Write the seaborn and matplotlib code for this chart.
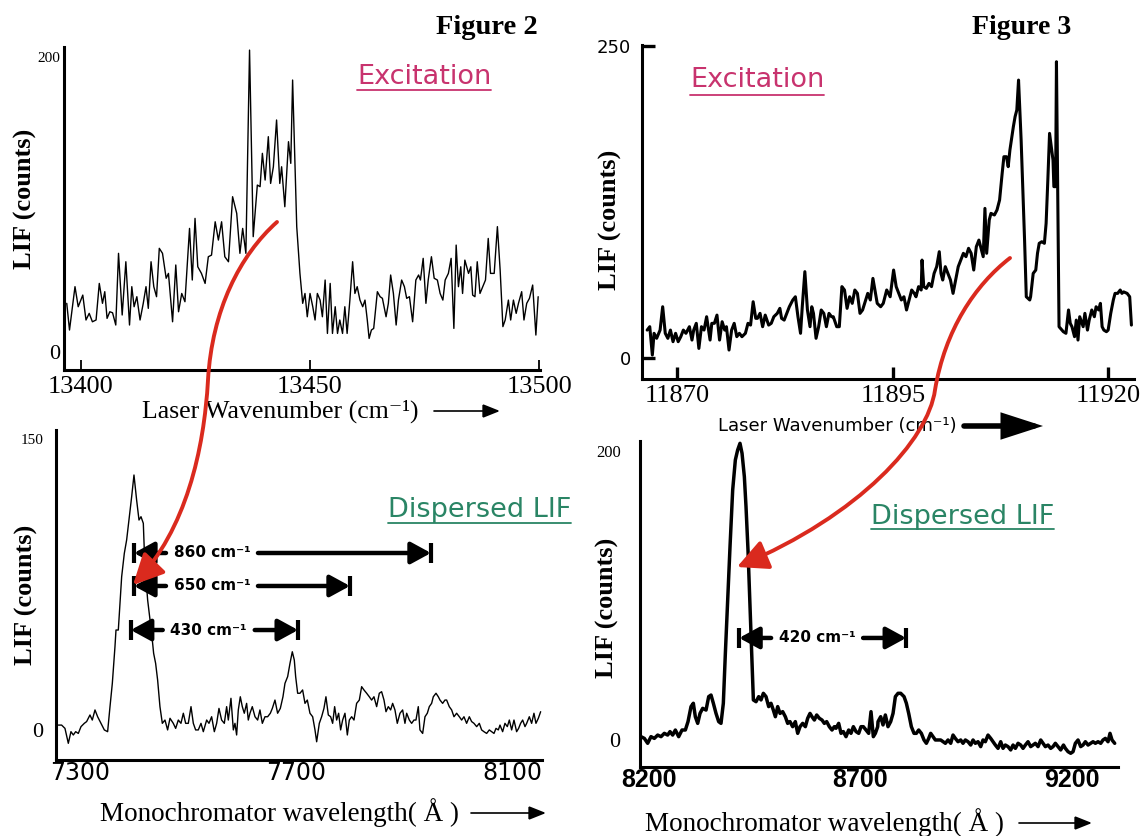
import matplotlib
matplotlib.use("Agg")
import matplotlib.pyplot as plt
import seaborn as sns
from matplotlib.path import Path
from matplotlib.patches import FancyArrowPatch
from matplotlib.lines import Line2D

# ---------------- data ----------------
exc2_wavenumber = [
    13396.9, 13397.5, 13398.7, 13399.4, 13400.4, 13401.1, 13401.8, 13402.5, 13403.3, 13404.0,
    13404.7, 13405.2, 13405.7, 13406.3, 13406.9, 13407.6, 13408.2, 13409.0, 13409.8, 13410.6,
    13411.1, 13411.6, 13412.2, 13412.9, 13413.6, 13414.2, 13414.7, 13415.3, 13415.9, 13416.5,
    13417.1, 13417.8, 13418.6, 13419.1, 13420.0, 13420.7, 13421.3, 13422.0, 13422.7, 13423.7,
    13424.3, 13424.9, 13425.5, 13426.3, 13427.1, 13427.8, 13428.5, 13429.3, 13430.0, 13430.7,
    13431.4, 13432.2, 13433.1, 13434.0, 13434.7, 13435.3, 13436.0, 13436.8, 13437.6, 13438.5,
    13439.1, 13439.6, 13440.2, 13440.9, 13441.4, 13442.0, 13442.7, 13443.4, 13443.8, 13444.5,
    13445.3, 13445.8, 13446.2, 13447.1, 13447.8,
    13448.4, 13448.9, 13449.4, 13450.0, 13450.6, 13451.1, 13451.6, 13452.2, 13452.7, 13453.3,
    13453.8, 13454.4, 13454.9, 13455.5, 13456.0, 13456.5, 13457.1, 13457.6, 13458.1, 13458.7,
    13459.3, 13459.8, 13460.3, 13460.9, 13461.5, 13462.0, 13462.5, 13462.9, 13463.4, 13463.9,
    13464.7, 13465.3, 13465.8, 13466.6, 13467.1, 13467.6, 13468.2, 13468.8, 13469.3, 13470.0,
    13470.6, 13471.1, 13471.7, 13472.4, 13473.1, 13473.7, 13474.1, 13474.7, 13475.3, 13475.8,
    13476.5, 13477.1, 13477.8, 13478.4, 13479.0, 13479.5, 13480.2, 13480.8, 13481.4, 13481.9,
    13482.4, 13482.9, 13483.3, 13483.8, 13484.6, 13485.1, 13485.5, 13486.0, 13486.5, 13487.1,
    13487.7, 13488.3, 13488.9, 13489.4, 13490.2, 13490.9, 13491.5, 13492.1, 13492.6, 13493.3,
    13493.8, 13494.4, 13495.0, 13495.5, 13496.2, 13496.7, 13497.3, 13497.9, 13498.6, 13499.3,
    13499.8]
exc2_lif = [
    33.0, 14.9, 44.3, 30.7, 38.6, 21.7, 26.2, 20.5, 21.7, 46.5,
    33.0, 40.9, 22.8, 27.3, 26.6, 18.3, 66.9, 25.1, 61.2, 18.3,
    44.3, 30.7, 37.5, 21.7, 33.0, 44.3, 29.6, 61.2, 44.3, 37.5,
    70.3, 66.9, 50.0, 53.3, 20.5, 59.0, 27.3, 39.7, 34.1, 83.8,
    48.8, 90.6, 57.8, 53.3, 46.5, 64.6, 65.7, 88.3, 75.9, 88.3,
    64.6, 61.2, 105.3, 94.0, 66.9, 83.8, 66.9, 204.7, 78.2, 113.2,
    112.1, 134.7, 116.6, 146.0, 114.3, 125.6, 157.3, 114.3, 125.6, 98.5,
    142.6, 127.9, 184.4, 85.0, 53.3,
    33.0, 39.7, 23.9, 39.7, 30.7, 21.7, 39.7, 35.2, 23.9, 48.8,
    12.6, 46.5, 12.6, 30.7, 12.6, 21.7, 12.6, 30.7, 12.6, 35.2,
    61.2, 39.7, 44.3, 35.2, 30.7, 35.2, 21.7, 9.2, 14.9, 16.0,
    40.9, 37.5, 36.4, 23.9, 33.0, 52.2, 39.7, 18.3, 35.2, 48.8,
    44.3, 36.4, 37.5, 20.5, 48.8, 52.2, 48.8, 63.5, 33.0, 48.8,
    64.6, 50.0, 48.8, 39.7, 35.2, 48.8, 53.3, 63.5, 16.0, 72.5,
    44.3, 57.8, 39.7, 62.3, 53.3, 57.8, 38.6, 37.5, 61.2, 39.7,
    44.3, 48.8, 77.0, 53.3, 53.3, 85.0, 55.6, 17.2, 21.7, 35.2,
    21.7, 35.2, 26.2, 33.0, 40.9, 21.7, 33.0, 36.4, 45.4, 11.5,
    37.5]

exc3_wavenumber = [
    11866.5, 11866.8, 11867.1, 11867.3, 11867.6, 11868.0, 11868.3, 11868.6, 11868.9, 11869.2,
    11869.5, 11869.8, 11870.1, 11870.4, 11870.7, 11871.0, 11871.4, 11871.7, 11871.9, 11872.2,
    11872.5, 11872.8, 11873.1, 11873.4, 11873.8, 11874.0, 11874.3, 11874.6, 11874.9, 11875.2,
    11875.5, 11875.7, 11876.0, 11876.3, 11876.6, 11876.9, 11877.2, 11877.5, 11877.9, 11878.2,
    11878.5, 11878.8, 11879.1, 11879.3, 11879.6, 11879.9, 11880.2, 11880.6, 11880.9, 11881.2,
    11881.6, 11881.9, 11882.1, 11882.4, 11882.7, 11883.0, 11883.4, 11883.7, 11884.0, 11884.3,
    11884.5, 11884.8, 11885.1, 11885.4, 11885.6, 11885.8, 11886.1, 11886.4, 11886.7, 11887.0,
    11887.3, 11887.6, 11887.9, 11888.1, 11888.5, 11888.8, 11889.1, 11889.4, 11889.7, 11890.0,
    11890.3, 11890.6, 11890.9, 11891.2, 11891.5, 11891.8, 11892.1, 11892.4, 11892.7, 11893.0,
    11893.2, 11893.6, 11893.9, 11894.3,
    11894.7, 11895.1, 11895.4, 11895.7, 11896.0, 11896.3, 11896.6, 11896.9, 11897.2, 11897.5,
    11897.7, 11898.0, 11898.3, 11898.4, 11898.6, 11898.9, 11899.2, 11899.5, 11899.8, 11900.1,
    11900.4, 11900.6, 11900.8, 11901.1, 11901.4, 11901.7, 11902.0, 11902.3, 11902.6, 11902.9,
    11903.2, 11903.5, 11903.8, 11904.1, 11904.4, 11904.7, 11905.0, 11905.2, 11905.5, 11905.7,
    11905.9, 11906.2, 11906.4, 11906.8, 11907.1, 11907.4, 11907.7, 11907.9, 11908.2, 11908.4,
    11908.6, 11909.0, 11909.2, 11909.4, 11909.6, 11909.9, 11910.1, 11910.3, 11910.5, 11910.9,
    11911.0, 11911.3, 11911.6, 11911.8, 11912.0, 11912.3, 11912.6, 11912.8, 11913.0, 11913.2,
    11913.4, 11913.6, 11913.7, 11913.9, 11914.0, 11914.3, 11914.8, 11915.1, 11915.4, 11915.6,
    11915.8, 11916.1, 11916.3, 11916.5, 11916.7, 11917.1, 11917.3, 11917.6, 11917.8, 11918.1,
    11918.4, 11918.6, 11918.9, 11919.1, 11919.3, 11919.5, 11919.8, 11920.0, 11920.3, 11920.6,
    11920.8, 11921.1, 11921.4, 11921.6, 11921.8, 11922.2, 11922.5, 11922.7]
exc3_lif = [
    22.4, 25.1, 2.4, 19.8, 15.8, 22.4, 41.1, 19.8, 15.8, 22.4,
    13.1, 19.8, 13.1, 17.1, 22.4, 19.8, 25.1, 14.4, 22.4, 27.8,
    7.7, 25.1, 22.4, 33.1, 14.4, 27.8, 27.8, 34.4, 14.4, 29.1,
    22.4, 25.1, 6.4, 22.4, 27.8, 17.1, 19.8, 17.1, 19.8, 27.8,
    26.4, 45.1, 31.8, 31.8, 35.8, 25.1, 34.4, 26.4, 27.8, 33.1,
    35.8, 39.8, 31.8, 30.4, 35.8, 41.1, 46.5, 49.1, 33.1, 19.8,
    41.1, 69.2, 38.5, 25.1, 41.1, 35.8, 15.8, 25.1, 38.5, 35.8,
    25.1, 35.8, 33.1, 33.1, 25.1, 25.1, 57.2, 54.5, 39.8, 49.1,
    43.8, 54.5, 51.8, 35.8, 38.5, 45.1, 51.8, 46.5, 63.8, 51.8,
    43.8, 41.1, 43.8, 54.5,
    49.1, 70.5, 57.2, 51.8, 46.5, 49.1, 38.5, 46.5, 54.5, 51.8,
    49.1, 57.2, 54.5, 78.5, 57.2, 55.8, 59.8, 57.2, 67.8, 73.2,
    85.2, 67.8, 62.5, 73.2, 67.8, 62.5, 51.8, 62.5, 73.2, 78.5,
    83.9, 81.2, 87.9, 83.9, 70.5, 89.2, 94.5, 89.2, 81.2, 119.9,
    83.9, 110.6, 115.9, 114.6, 118.6, 126.6, 148.0, 161.3, 161.3, 153.3,
    166.7, 185.4, 193.4, 198.7, 222.7, 174.7, 134.6, 94.5, 49.1, 46.5,
    49.1, 67.8, 70.5, 83.9, 91.9, 93.2, 91.9, 107.9, 142.6, 180.0,
    169.3, 158.6, 137.3, 137.3, 237.4, 25.1, 21.1, 19.8, 38.5, 27.8,
    25.1, 17.1, 30.4, 14.4, 33.1, 25.1, 35.8, 22.4, 30.4, 38.5,
    33.1, 41.1, 38.5, 43.8, 25.1, 22.4, 21.1, 22.4, 35.8, 46.5,
    51.8, 51.8, 54.5, 51.8, 53.0, 51.8, 49.1, 26.4]

disp2_wavelength = [
    7259.9, 7266.0, 7272.2, 7278.4, 7283.3, 7287.7, 7292.0, 7296.9, 7301.9, 7308.0,
    7312.3, 7318.5, 7322.8, 7327.8, 7332.7, 7338.9, 7345.1, 7351.2, 7355.6, 7359.9,
    7364.8, 7366.7, 7371.0, 7374.1, 7377.2, 7382.1, 7386.4, 7390.7, 7395.7, 7400.0,
    7404.9, 7409.3, 7413.0, 7417.3, 7419.1, 7421.6, 7425.3, 7429.0, 7432.7, 7436.4,
    7440.1, 7443.8, 7448.1, 7452.5, 7457.4, 7462.3, 7466.7, 7472.8, 7477.2, 7482.1,
    7487.0, 7491.4, 7495.7, 7500.6, 7505.6, 7509.9, 7514.2, 7519.1, 7524.1, 7528.4,
    7534.6, 7538.9, 7543.8, 7548.8, 7553.1, 7557.4, 7562.3, 7567.3, 7571.6, 7574.7,
    7579.6, 7584.0, 7587.0, 7590.1, 7593.2, 7596.9, 7600.6, 7604.3, 7608.6, 7611.7,
    7614.8, 7619.1, 7624.1, 7629.0, 7633.3, 7637.7, 7642.6, 7647.5, 7652.5, 7656.2,
    7661.1, 7666.0, 7671.0, 7675.9, 7679.6, 7684.6, 7688.9, 7693.2, 7696.9, 7699.4,
    7703.1,
    7707.4, 7712.3, 7716.7, 7721.0, 7725.9, 7730.9, 7735.2, 7738.3, 7743.2, 7747.5,
    7751.8, 7755.5, 7759.9, 7764.2, 7767.9, 7771.6, 7775.3, 7779.0, 7782.7, 7786.4,
    7790.7, 7795.1, 7798.8, 7803.1, 7807.4, 7812.3, 7817.3, 7821.6, 7825.9, 7830.9,
    7835.8, 7840.1, 7844.4, 7849.4, 7854.3, 7858.6, 7863.0, 7866.7, 7871.0, 7875.3,
    7879.0, 7883.3, 7887.6, 7892.6, 7897.5, 7901.8, 7905.0, 7909.9, 7914.2, 7918.5,
    7922.2, 7926.5, 7929.6, 7934.6, 7938.9, 7943.2, 7946.9, 7951.2, 7954.3, 7959.3,
    7963.6, 7966.7, 7971.6, 7975.9, 7979.0, 7983.9, 7988.3, 7992.6, 7997.5, 8002.5,
    8006.8, 8011.1, 8016.0, 8021.0, 8025.3, 8029.6, 8034.6, 8039.5, 8043.8, 8048.1,
    8053.1, 8058.0, 8062.3, 8066.7, 8070.4, 8074.7, 8077.8, 8082.7, 8087.0, 8091.4,
    8095.1, 8099.4, 8103.7, 8108.6, 8112.3, 8116.0, 8119.8, 8124.1, 8127.2, 8132.1,
    8136.4, 8140.7, 8144.4, 8148.8, 8153.1]
disp2_lif = [
    2.5, 2.5, 0.8, -6.9, -0.9, -2.6, -0.9, -1.8, 1.7, 3.4,
    4.3, 7.7, 5.1, 10.3, 6.8, 3.4, 0.0, -0.9, 12.0, 24.0,
    42.9, 51.5, 51.5, 65.3, 79.0, 91.0, 97.9, 108.2, 120.2, 131.4,
    118.5, 108.2, 109.9, 106.5, 92.7, 80.7, 67.0, 58.4, 49.8, 39.5,
    34.3, 25.7, 12.0, 3.4, 5.1, 0.0, 6.0, 3.4, 0.8, 5.1,
    3.4, 8.6, 3.4, 3.4, 12.0, 3.4, 0.0, 0.0, 3.4, -0.9,
    5.1, 3.4, 6.8, -0.9, 3.4, 11.1, 5.1, 3.4, 12.0, 5.1,
    16.3, 0.0, 3.4, -2.6, 10.3, 17.1, 12.0, 8.6, 13.7, 5.1,
    8.6, 12.0, 6.8, 5.1, 10.3, 3.4, 6.8, 6.8, 8.6, 11.1,
    15.4, 8.6, 11.1, 17.1, 24.0, 27.5, 34.3, 40.3, 36.0, 27.5,
    18.9,
    18.9, 20.6, 13.7, 15.4, 8.6, 6.8, 0.0, -6.1, 3.4, 6.8,
    11.1, 17.1, 7.7, 6.8, 3.4, 12.0, 5.1, 8.6, 0.0, 5.1,
    8.6, -2.6, 5.1, 6.8, 5.1, 13.7, 15.4, 22.3, 20.6, 18.9,
    17.1, 15.4, 17.1, 12.0, 18.9, 19.7, 15.4, 9.4, 12.0, 10.3,
    13.7, 10.3, 3.4, 8.6, 10.3, 3.4, 8.6, 5.1, 3.4, 5.1,
    5.1, 12.0, 0.0, -1.8, 6.8, 8.6, 12.0, 13.7, 17.1, 18.9,
    17.1, 15.4, 13.7, 15.4, 15.4, 12.0, 10.3, 6.8, 8.6, 6.8,
    5.1, 6.8, 3.4, 6.8, 4.3, 3.4, 1.7, 3.4, 0.0, -0.9,
    -1.8, 0.0, -0.9, -1.8, 0.8, 0.0, 2.5, -0.9, 3.4, 1.7,
    5.1, 0.0, 5.1, -0.9, 0.8, 3.4, 5.1, 1.7, 3.4, 6.8,
    3.4, 8.6, 3.4, 6.0, 9.4]

disp3_wavelength = [
    8181.1, 8189.0, 8196.8, 8204.7, 8212.6, 8220.5, 8228.4, 8236.2, 8244.1, 8249.6,
    8255.9, 8262.3, 8270.1, 8278.0, 8285.9, 8292.2, 8299.3, 8304.8, 8309.5, 8315.1,
    8320.6, 8326.9, 8334.8, 8341.1, 8346.6, 8352.1, 8358.4, 8364.7, 8370.2, 8375.7,
    8380.5, 8386.0, 8391.5, 8397.8, 8404.1, 8409.6, 8415.1, 8419.9, 8425.4, 8429.3,
    8434.0, 8438.8, 8443.5, 8446.7, 8453.0, 8459.3, 8464.8, 8470.3, 8476.6, 8482.9,
    8488.4, 8493.9, 8498.7, 8504.2, 8509.7, 8516.0, 8522.3, 8527.8, 8533.3, 8539.6,
    8545.9, 8551.5, 8557.0, 8563.3, 8569.6, 8575.1, 8580.6, 8585.3, 8590.9, 8596.4,
    8602.7, 8609.0, 8614.5, 8620.0, 8626.3, 8632.6, 8638.1, 8642.1, 8648.4, 8653.9,
    8659.4, 8665.7, 8672.0, 8677.5, 8683.1, 8689.4, 8695.7, 8701.2, 8706.7, 8713.0,
    8719.3, 8724.8, 8730.3, 8735.1, 8740.6,
    8741.4, 8747.7, 8753.2, 8758.7, 8765.0, 8771.3, 8776.9, 8782.4, 8788.7, 8795.0,
    8802.9, 8808.4, 8813.9, 8820.2, 8826.5, 8832.0, 8837.5, 8843.8, 8850.1, 8855.7,
    8861.2, 8865.9, 8871.4, 8876.9, 8883.2, 8889.5, 8895.1, 8900.6, 8906.9, 8913.2,
    8918.7, 8924.2, 8930.5, 8936.8, 8942.3, 8947.9, 8954.2, 8960.5, 8966.0, 8971.5,
    8977.8, 8984.1, 8989.6, 8995.1, 9001.4, 9007.8, 9013.3, 9018.8, 9025.1, 9031.4,
    9036.9, 9042.4, 9048.7, 9055.0, 9060.6, 9066.1, 9072.4, 9078.7, 9084.2, 9089.7,
    9096.0, 9102.3, 9107.8, 9113.3, 9119.7, 9126.0, 9131.5, 9137.0, 9143.3, 9149.6,
    9155.1, 9160.6, 9166.9, 9173.2, 9179.8, 9184.3, 9190.6, 9196.9, 9202.4, 9207.9,
    9214.2, 9220.5, 9226.0, 9231.6, 9237.9, 9244.2, 9249.7, 9255.2, 9261.5, 9267.8,
    9273.3, 9278.8, 9285.1, 9289.8, 9294.6, 9300.9]
disp3_lif = [
    2.3, 1.1, -2.3, 2.3, 1.1, 3.4, 2.3, 4.6, 3.4, 5.8,
    3.4, 6.9, 2.3, 6.9, 6.9, 12.7, 23.1, 25.4, 16.1, 11.5,
    18.4, 21.9, 20.7, 30.0, 31.1, 25.4, 18.4, 12.7, 11.5, 25.4,
    60.0, 96.9, 133.8, 173.0, 193.8, 200.7, 205.3, 198.4, 182.2, 161.5,
    131.5, 92.3, 55.4, 27.7, 26.5, 30.0, 27.7, 32.3, 30.0, 23.1,
    25.4, 20.7, 16.1, 23.1, 18.4, 19.6, 16.1, 11.5, 12.7, 9.2,
    12.7, 4.6, 9.2, 11.5, 9.2, 15.0, 18.4, 16.1, 13.8, 17.3,
    15.0, 13.8, 11.5, 12.7, 9.2, 6.9, 9.2, 8.1, 11.5, 4.6,
    5.8, 2.3, 6.9, 4.6, 9.2, 5.8, 4.6, 9.2, 9.2, 6.9,
    4.6, 19.6, 2.3, 4.6, 9.2,
    12.7, 16.1, 10.4, 17.3, 9.2, 12.7, 18.4, 30.0, 32.3, 32.3,
    30.0, 25.4, 18.4, 9.2, 4.6, 4.6, 6.9, 4.6, 0.0, -2.3,
    1.1, 4.6, 2.3, 0.0, 0.0, 0.0, -1.2, -2.3, 0.0, -2.3,
    3.4, 1.1, -1.2, 0.0, -2.3, 0.0, -1.2, -3.5, 0.0, -2.3,
    -1.2, -4.6, 0.0, -1.2, 3.4, 1.1, -1.2, -3.5, -5.8, -1.2,
    -5.8, -3.5, -4.6, -6.9, -3.5, -5.8, -2.3, -3.5, -5.8, -3.5,
    -1.2, -4.6, -3.5, -2.3, -4.6, 0.0, -2.3, -4.6, -3.5, -5.8,
    -4.6, -2.3, -4.6, -6.9, -3.5, -5.8, -8.1, -9.2, -8.1, -2.3,
    0.0, -4.6, -3.5, -1.2, -3.5, -2.3, -1.2, -2.3, -1.2, -2.3,
    0.0, 1.1, -1.2, 4.6, 0.0, -2.3]

exc2_xticks = [13400, 13450, 13500]
exc2_yticks = [0, 200]
exc3_xticks = [11870, 11895, 11920]
exc3_yticks = [0, 250]
disp2_xticks = [7300, 7700, 8100]
disp2_yticks = [0, 150]
disp3_xticks = [8200, 8700, 9200]
disp3_yticks = [0, 200]

disp2_shift_labels = ["860 cm⁻¹", "650 cm⁻¹", "430 cm⁻¹"]
disp2_shift_from = [7400, 7400, 7394]
disp2_shift_to = [7950, 7800, 7704]
disp2_shift_level = [91.2, 74.2, 51.5]
disp3_shift_labels = ["420 cm⁻¹"]
disp3_shift_from = [8413]
disp3_shift_to = [8808]
disp3_shift_level = [70.6]

# ---------------- style ----------------
sns.set_style("ticks")
plt.rcParams.update({
    "font.family": ["DejaVu Sans"],
    "axes.edgecolor": "black",
    "text.color": "black",
    "xtick.color": "black",
    "ytick.color": "black",
})
SERIF = ["Liberation Serif", "DejaVu Serif"]
SANS = ["DejaVu Sans"]
BOLDSANS = ["Liberation Sans", "DejaVu Sans"]
PINK = "#c8336e"
GREEN = "#2a8565"
RED = "#da2a1e"

W, H = 1144, 836
fig = plt.figure(figsize=(W / 100, H / 100), dpi=100)
fig.patch.set_facecolor("white")


def box(l, t, r, b):
    return [l / W, 1 - b / H, (r - l) / W, (b - t) / H]


def fp(px, py):
    return (px / W, 1 - py / H)


def setup(ax, xlim, ylim, lw=2.2):
    ax.set_xlim(*xlim)
    ax.set_ylim(*ylim)
    sns.despine(ax=ax)
    for s in ("left", "bottom"):
        ax.spines[s].set_linewidth(lw)
        ax.spines[s].set_color("black")
    ax.set_xlabel("")
    ax.set_ylabel("")
    ax.patch.set_alpha(0)


ax1 = fig.add_axes(box(64, 47, 540, 370))
ax2 = fig.add_axes(box(642, 45, 1134, 379))
ax3 = fig.add_axes(box(56, 430, 542, 760))
ax4 = fig.add_axes(box(640, 441, 1118, 767))

sns.lineplot(x=exc2_wavenumber, y=exc2_lif, ax=ax1, color="black", linewidth=1.0,
             estimator=None, sort=False)
sns.lineplot(x=exc3_wavenumber, y=exc3_lif, ax=ax2, color="black", linewidth=2.2,
             estimator=None, sort=False)
sns.lineplot(x=disp2_wavelength, y=disp2_lif, ax=ax3, color="black", linewidth=1.0,
             estimator=None, sort=False)
sns.lineplot(x=disp3_wavelength, y=disp3_lif, ax=ax4, color="black", linewidth=2.5,
             estimator=None, sort=False)

setup(ax1, (13396.3, 13500.2), (-12.2, 206.8))
setup(ax2, (11865.9, 11923.0), (-16.8, 250.8))
setup(ax3, (7255.6, 8155.6), (-15.5, 154.6))
setup(ax4, (8178.7, 9308.7), (-18.7, 206.9))


def ticks(ax, xt, yt, xfont, xsize, xweight, yfont, ysizes, xpad, ypad):
    ax.set_xticks(xt)
    ax.set_xticklabels([str(v) for v in xt], family=xfont, fontsize=xsize,
                       fontweight=xweight)
    ax.set_yticks(yt)
    ax.set_yticklabels([str(v) for v in yt], family=yfont)
    for lbl, s in zip(ax.get_yticklabels(), ysizes):
        lbl.set_fontsize(s)
    ax.tick_params(axis="x", pad=xpad)
    ax.tick_params(axis="y", pad=ypad)


ticks(ax1, exc2_xticks, exc2_yticks, SERIF, 19, "normal", SERIF, [16, 11], 4, 3)
ax1.tick_params(axis="x", direction="in", length=7, width=1.3)
ax1.tick_params(axis="y", length=0)

ticks(ax2, exc3_xticks, exc3_yticks, SERIF, 19, "normal", SANS, [13, 13], 4, 8)
ax2.tick_params(axis="both", direction="in", length=9, width=2.4)

ticks(ax3, disp2_xticks, disp2_yticks, SANS, 17, "normal", SERIF, [16, 11], 1, 9)
ax3.tick_params(axis="both", length=0)

ticks(ax4, disp3_xticks, disp3_yticks, BOLDSANS, 18, "bold", SERIF, [16, 12], 1, 14)
ax4.tick_params(axis="both", length=0)

# ---------------- axis titles ----------------
ylab = dict(rotation=90, ha="center", va="center", family=SERIF,
            fontweight="bold", fontsize=19)
fig.text(*fp(25, 199), "LIF (counts)", **ylab)
fig.text(*fp(610, 220), "LIF (counts)", **ylab)
fig.text(*fp(26, 595), "LIF (counts)", **ylab)
fig.text(*fp(607, 608), "LIF (counts)", **ylab)

fig.text(*fp(487, 28), "Figure 2", ha="center", va="center", family=SERIF,
         fontweight="bold", fontsize=20.5)
fig.text(*fp(1022, 28), "Figure 3", ha="center", va="center", family=SERIF,
         fontweight="bold", fontsize=20)

fig.text(*fp(142, 411), "Laser Wavenumber (cm⁻¹)", ha="left", va="center",
         family=SERIF, fontsize=18.5)
fig.text(*fp(718, 426), "Laser Wavenumber (cm⁻¹)", ha="left", va="center",
         family=SANS, fontsize=13)
fig.text(*fp(100, 813), "Monochromator wavelength( Å )", ha="left", va="center",
         family=SERIF, fontsize=19.5)
fig.text(*fp(645, 823), "Monochromator wavelength( Å )", ha="left", va="center",
         family=SERIF, fontsize=19.5)


def fig_arrow(x0, x1, py, lw, hl, hw, ms):
    fig.add_artist(FancyArrowPatch(
        fp(x0, py), fp(x1, py), transform=fig.transFigure,
        arrowstyle=f"-|>,head_length={hl},head_width={hw}", mutation_scale=ms,
        lw=lw, color="black", shrinkA=0, shrinkB=0, joinstyle="miter"))


fig_arrow(434, 500, 411, 1.2, 0.7, 0.28, 15)
fig_arrow(964, 1043, 426, 4.0, 1.3, 0.42, 17)
fig_arrow(471, 546, 813, 1.2, 0.7, 0.28, 15)
fig_arrow(1019, 1092, 823, 1.2, 0.7, 0.28, 15)

# ---------------- coloured underlined captions ----------------
captions = []
captions.append((fig.text(*fp(357, 77), "Excitation", ha="left", va="center",
                          family=SANS, fontsize=19.5, color=PINK), 90, PINK))
captions.append((fig.text(*fp(690, 80), "Excitation", ha="left", va="center",
                          family=SANS, fontsize=19.5, color=PINK), 95, PINK))
captions.append((fig.text(*fp(388, 510), "Dispersed LIF", ha="left", va="center",
                          family=SANS, fontsize=19.5, color=GREEN), 523, GREEN))
captions.append((fig.text(*fp(871, 517), "Dispersed LIF", ha="left", va="center",
                          family=SANS, fontsize=19.5, color=GREEN), 529, GREEN))
renderer = fig.canvas.get_renderer()
for t, uy, c in captions:
    bb = t.get_window_extent(renderer)
    fig.add_artist(Line2D([bb.x0 / W, bb.x1 / W], [1 - uy / H, 1 - uy / H],
                          transform=fig.transFigure, color=c, lw=1.3))

# ---------------- Raman-shift markers ----------------
def shift_marker(ax, x0, x1, y, label, px_per_unit_x, px_per_unit_y):
    half = 10 / px_per_unit_y
    ax.vlines([x0, x1], y - half, y + half, color="black", lw=3)
    xl_end = x0 + 32 / px_per_unit_x
    xr_start = x0 + 124 / px_per_unit_x
    xt = x0 + 78 / px_per_unit_x
    style = "-|>,head_length=0.55,head_width=0.3"
    ax.annotate("", xy=(x0, y), xytext=(xl_end, y),
                arrowprops=dict(arrowstyle=style, lw=3.2, color="black",
                                mutation_scale=22, shrinkA=0, shrinkB=0))
    ax.annotate("", xy=(x1, y), xytext=(xr_start, y),
                arrowprops=dict(arrowstyle=style, lw=3.2, color="black",
                                mutation_scale=22, shrinkA=0, shrinkB=0))
    ax.text(xt, y, label, ha="center", va="center", fontweight="bold",
            fontsize=11, family=SANS, color="black")


for lab, a, b, lev in zip(disp2_shift_labels, disp2_shift_from, disp2_shift_to,
                          disp2_shift_level):
    shift_marker(ax3, a, b, lev, lab, 0.54, 1.94)
for lab, a, b, lev in zip(disp3_shift_labels, disp3_shift_from, disp3_shift_to,
                          disp3_shift_level):
    shift_marker(ax4, a, b, lev, lab, 0.423, 1.445)

# ---------------- red connecting arrows ----------------
codes = [Path.MOVETO, Path.CURVE4, Path.CURVE4, Path.CURVE4,
         Path.CURVE4, Path.CURVE4, Path.CURVE4]
arrow1 = Path([fp(277, 222), fp(240, 255), fp(212, 310), fp(208, 380),
               fp(204, 450), fp(186, 530), fp(133, 585)], codes)
arrow2 = Path([fp(1010, 258), fp(975, 285), fp(945, 330), fp(935, 390),
               fp(928, 440), fp(860, 515), fp(737, 567)], codes)
for p in (arrow1, arrow2):
    fig.add_artist(FancyArrowPatch(
        path=p, transform=fig.transFigure,
        arrowstyle="-|>,head_length=0.85,head_width=0.42", mutation_scale=22,
        lw=2.8, color=RED, shrinkA=0, shrinkB=0, zorder=10))

fig.savefig("out.png", dpi=100)
